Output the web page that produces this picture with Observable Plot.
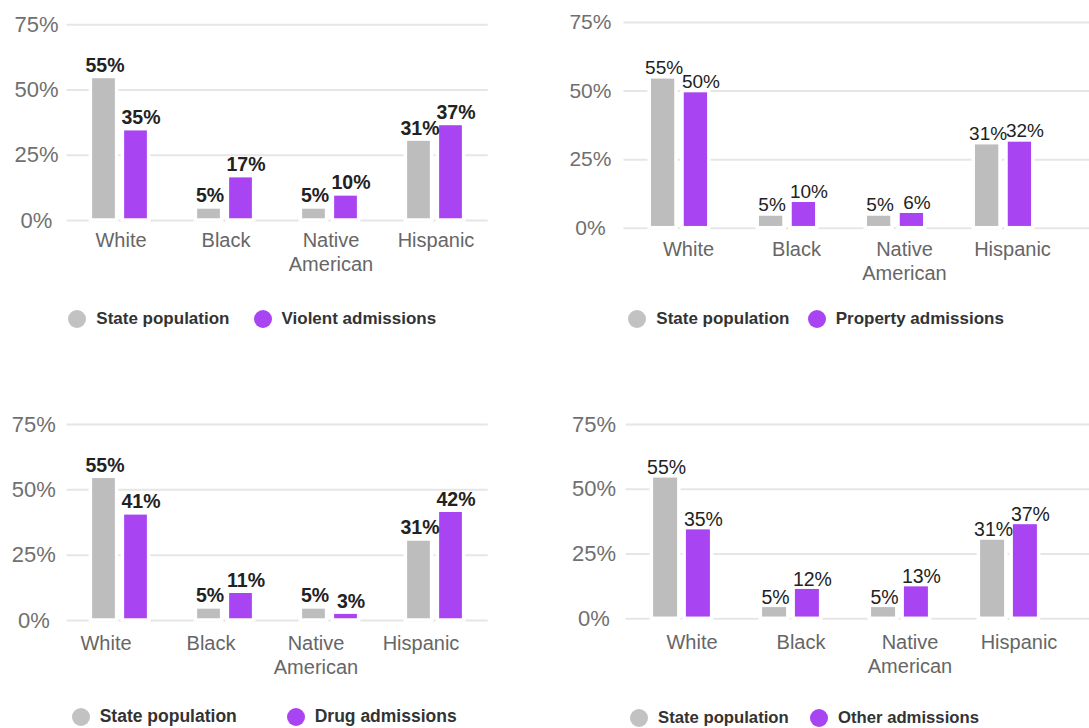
<!DOCTYPE html>
<html>
<head>
<meta charset="utf-8">
<script src="https://cdn.jsdelivr.net/npm/d3@7"></script>
<script src="https://cdn.jsdelivr.net/npm/@observablehq/plot@0.6"></script>
<style>
  html, body { margin: 0; padding: 0; background: #fff; }
  body { font-family: "Liberation Sans", Arial, Helvetica, sans-serif; }
  #root { position: relative; width: 1089px; height: 728px; overflow: hidden; }
  .panel { position: absolute; }
  .panel svg { overflow: visible; }
  .lg { position: absolute; display: flex; align-items: center; font-weight: bold; font-size: 17px; color: #333; white-space: nowrap; }
  .dot { width: 18px; height: 18px; border-radius: 50%; margin-right: 10px; flex: none; }
</style>
</head>
<body>
<div id="root"></div>
<script>
// ---- data ----
const categories = ["White", "Black", "Native American", "Hispanic"];
const populationLabel = "State population";
const statePopulation = [55, 5, 5, 31];
const violentAdmissions = [35, 17, 10, 37];
const propertyAdmissions = [50, 10, 6, 32];
const drugAdmissions = [41, 11, 3, 42];
const otherAdmissions = [35, 12, 13, 37];
const admissionLabels = ["Violent admissions", "Property admissions", "Drug admissions", "Other admissions"];
const admissionSeries = [violentAdmissions, propertyAdmissions, drugAdmissions, otherAdmissions];
const yTicks = [0, 25, 50, 75];

const grayColor = "#bdbdbd";
const purpleColor = "#a944f3";

// ---- layout per panel ----
const panels = [
  {left: 0,   top: 0,   width: 500, height: 290, ml: 66.7, mr: 12.3, mt: 24.3, mb: 70,   yDx: -30.7, yFont: 22, catPad: 9,    catDx: 1,   off: 16,   bw: 26.5, vDy: -5, vWeight: "bold",   vFont: 19.5, gridExt: 0,
   legend: {y: 319, x1: 68.3, x2: 253.5, font: 17}},
  {left: 540, top: 0,   width: 549, height: 295, ml: 83.4, mr: 30.8, mt: 22,   mb: 67.3, yDx: -33.5, yFont: 21, catPad: 10.3, catDx: 9,   off: 16.4, bw: 27.5, vDy: -3, vWeight: "normal", vFont: 19, gridExt: 31,
   legend: {y: 319.3, x1: 628.3, x2: 807.7, font: 17}},
  {left: 0,   top: 390, width: 500, height: 300, ml: 66.7, mr: 12.3, mt: 34,   mb: 70,   yDx: -33.4, yFont: 22, catPad: 12.3, catDx: -14, off: 16,   bw: 26.5, vDy: -5, vWeight: "bold",   vFont: 19.5, gridExt: 0,
   legend: {y: 716.7, x1: 71.7, x2: 286.7, font: 17.5}},
  {left: 540, top: 390, width: 549, height: 300, ml: 85.6, mr: 25.4, mt: 34,   mb: 71.7, yDx: -32.1, yFont: 22, catPad: 13,   catDx: 10,  off: 16.4, bw: 28,   vDy: -2, vWeight: "normal", vFont: 19.5, gridExt: 31,
   legend: {y: 718.3, x1: 630, x2: 810, font: 16.7}}
];

const root = document.getElementById("root");

panels.forEach((p, i) => {
  const rows = [];
  categories.forEach((c, j) => {
    rows.push({category: c, series: "pop", value: statePopulation[j]});
    rows.push({category: c, series: "adm", value: admissionSeries[i][j]});
  });
  const pop = rows.filter(d => d.series === "pop");
  const adm = rows.filter(d => d.series === "adm");

  const step = (p.width - p.ml - p.mr) / categories.length;
  const inA = step / 2 - p.off - p.bw / 2;
  const inB = step / 2 + p.off - p.bw / 2;

  const chart = Plot.plot({
    width: p.width,
    height: p.height,
    marginLeft: p.ml,
    marginRight: p.mr,
    marginTop: p.mt,
    marginBottom: p.mb,
    style: {fontFamily: "Liberation Sans, Arial, Helvetica, sans-serif", background: "transparent"},
    x: {type: "band", domain: categories, padding: 0},
    y: {domain: [0, 75]},
    marks: [
      Plot.ruleY(yTicks, {stroke: "#e6e6e6", strokeWidth: 2, insetRight: -p.gridExt}),
      Plot.barY(pop, {x: "category", y: "value", fill: grayColor, stroke: "#fff", strokeWidth: 3.5, insetLeft: inA, insetRight: inB}),
      Plot.barY(adm, {x: "category", y: "value", fill: purpleColor, stroke: "#fff", strokeWidth: 3.5, insetLeft: inB, insetRight: inA}),
      Plot.text(pop, {x: "category", y: "value", text: d => d.value + "%", dx: -p.off + 1, dy: p.vDy, lineAnchor: "bottom", fontSize: p.vFont, fontWeight: p.vWeight, fill: "#222"}),
      Plot.text(adm, {x: "category", y: "value", text: d => d.value + "%", dx: p.off + 5, dy: p.vDy, lineAnchor: "bottom", fontSize: p.vFont, fontWeight: p.vWeight, fill: "#222"}),
      Plot.axisY({ticks: yTicks, tickFormat: d => d + "%", tickSize: 0, tickPadding: 0, dx: p.yDx, textAnchor: "middle", fontSize: p.yFont, color: "#707070", label: null}),
      Plot.axisX({tickSize: 0, tickPadding: p.catPad, dx: p.catDx, fontSize: 20, lineHeight: 1.2, color: "#666", label: null, tickFormat: d => d.replace(" ", "\n")})
    ]
  });
  const div = document.createElement("div");
  div.className = "panel";
  div.style.left = p.left + "px";
  div.style.top = p.top + "px";
  div.appendChild(chart);
  root.appendChild(div);

  // legend
  const items = [
    {label: populationLabel, color: "#c2c2c2", x: p.legend.x1},
    {label: admissionLabels[i], color: purpleColor, x: p.legend.x2}
  ];
  items.forEach(it => {
    const lg = document.createElement("div");
    lg.className = "lg";
    lg.style.left = it.x + "px";
    lg.style.top = (p.legend.y - 10) + "px";
    lg.style.height = "20px";
    lg.style.fontSize = p.legend.font + "px";
    const dot = document.createElement("span");
    dot.className = "dot";
    dot.style.background = it.color;
    const t = document.createElement("span");
    t.textContent = it.label;
    lg.appendChild(dot);
    lg.appendChild(t);
    root.appendChild(lg);
  });
});
</script>
</body>
</html>
